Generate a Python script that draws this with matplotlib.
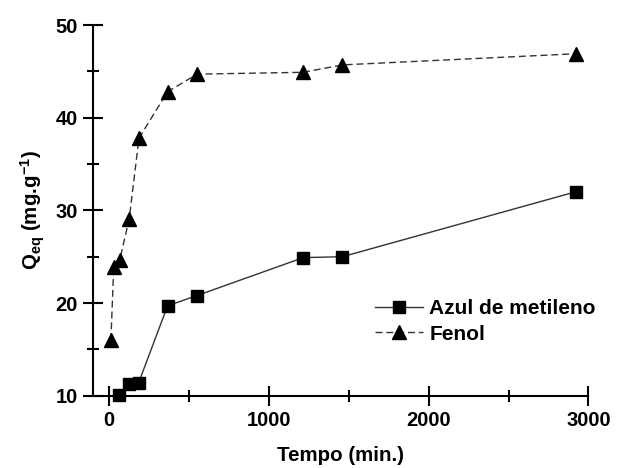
import numpy as np
import matplotlib
matplotlib.use("Agg")
import matplotlib.pyplot as plt
from matplotlib.ticker import MultipleLocator

plt.rcParams["font.family"] = "Liberation Sans"
plt.rcParams["font.weight"] = "bold"
plt.rcParams["mathtext.fontset"] = "custom"
plt.rcParams["mathtext.rm"] = "Liberation Sans:bold"
plt.rcParams["mathtext.it"] = "Liberation Sans:bold"
plt.rcParams["mathtext.bf"] = "Liberation Sans:bold"

# Data
azul_t = [60, 122, 184, 365, 548, 1215, 1460, 2920]
azul_q = [10.1, 11.3, 11.4, 19.7, 20.8, 24.9, 25.0, 32.0]

fenol_t = [10, 28, 65, 125, 186, 365, 550, 1215, 1460, 2920]
fenol_q = [16.0, 23.9, 24.6, 29.1, 37.8, 42.8, 44.7, 44.9, 45.7, 46.9]

labels = ["Azul de metileno", "Fenol"]

fig = plt.figure(figsize=(6.2, 4.68), dpi=100)
ax = fig.add_axes([0.1505, 0.1545, 0.7985, 0.792])

ax.plot(azul_t, azul_q, color="#333333", lw=1.0, marker="s", ms=8.3,
        mfc="black", mec="black", label=labels[0], clip_on=False, zorder=3)
ax.plot(fenol_t, fenol_q, color="#333333", lw=1.0, ls=(0, (5, 2.8)), marker="^",
        ms=10.5, mfc="black", mec="black", label=labels[1], clip_on=False, zorder=3)

ax.set_xlim(-100, 3000)
ax.set_ylim(10, 50)
ax.xaxis.set_major_locator(MultipleLocator(1000))
ax.xaxis.set_minor_locator(MultipleLocator(500))
ax.yaxis.set_major_locator(MultipleLocator(10))
ax.yaxis.set_minor_locator(MultipleLocator(5))

for s in ["top", "right"]:
    ax.spines[s].set_visible(False)
for s in ["left", "bottom"]:
    ax.spines[s].set_linewidth(1.5)

ax.tick_params(which="major", direction="inout", length=14.5, width=1.5,
               labelsize=14.5, pad=4)
ax.tick_params(which="minor", direction="inout", length=9, width=1.5)

ax.set_xlabel("Tempo (min.)", fontsize=14.8, fontweight="bold", labelpad=11)
ax.set_ylabel(r"Q$_{eq}$ (mg.g$^{-1}$)", fontsize=14.8, fontweight="bold",
              labelpad=6)

ax.legend(loc="center left", bbox_to_anchor=(0.569, 0.2), frameon=False,
          fontsize=15, handlelength=2.3, handletextpad=0.3, labelspacing=0.3,
          borderpad=0, borderaxespad=0)

fig.savefig("out.png", dpi=100)
